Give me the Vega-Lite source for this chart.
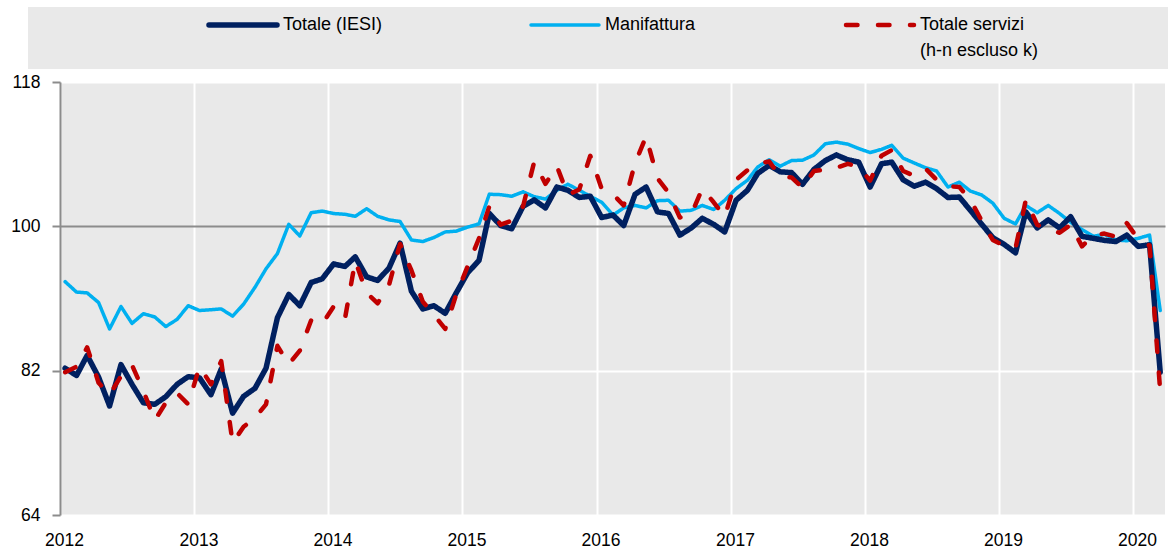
{
  "$schema": "https://vega.github.io/schema/vega-lite/v6.json",
  "autosize": {"type": "none"},
  "padding": {"left": 60, "top": 82, "right": 3, "bottom": 40},
  "width": 1105,
  "height": 433,
  "background": "white",
  "data": {"values": [
{"d":"2012-01-15","s":"Manifattura","v":93.1},{"d":"2012-02-15","s":"Manifattura","v":91.8},{"d":"2012-03-15","s":"Manifattura","v":91.7},{"d":"2012-04-15","s":"Manifattura","v":90.5},{"d":"2012-05-15","s":"Manifattura","v":87.2},{"d":"2012-06-15","s":"Manifattura","v":90.0},{"d":"2012-07-15","s":"Manifattura","v":87.9},{"d":"2012-08-15","s":"Manifattura","v":89.1},{"d":"2012-09-15","s":"Manifattura","v":88.7},{"d":"2012-10-15","s":"Manifattura","v":87.5},{"d":"2012-11-15","s":"Manifattura","v":88.4},{"d":"2012-12-15","s":"Manifattura","v":90.1},
{"d":"2013-01-15","s":"Manifattura","v":89.5},{"d":"2013-02-15","s":"Manifattura","v":89.6},{"d":"2013-03-15","s":"Manifattura","v":89.7},{"d":"2013-04-15","s":"Manifattura","v":88.8},{"d":"2013-05-15","s":"Manifattura","v":90.3},{"d":"2013-06-15","s":"Manifattura","v":92.4},{"d":"2013-07-15","s":"Manifattura","v":94.7},{"d":"2013-08-15","s":"Manifattura","v":96.6},{"d":"2013-09-15","s":"Manifattura","v":100.25},{"d":"2013-10-15","s":"Manifattura","v":98.8},{"d":"2013-11-15","s":"Manifattura","v":101.7},{"d":"2013-12-15","s":"Manifattura","v":101.9},
{"d":"2014-01-15","s":"Manifattura","v":101.6},{"d":"2014-02-15","s":"Manifattura","v":101.5},{"d":"2014-03-15","s":"Manifattura","v":101.25},{"d":"2014-04-15","s":"Manifattura","v":102.2},{"d":"2014-05-15","s":"Manifattura","v":101.25},{"d":"2014-06-15","s":"Manifattura","v":100.8},{"d":"2014-07-15","s":"Manifattura","v":100.6},{"d":"2014-08-15","s":"Manifattura","v":98.3},{"d":"2014-09-15","s":"Manifattura","v":98.1},{"d":"2014-10-15","s":"Manifattura","v":98.6},{"d":"2014-11-15","s":"Manifattura","v":99.3},{"d":"2014-12-15","s":"Manifattura","v":99.4},
{"d":"2015-01-15","s":"Manifattura","v":99.9},{"d":"2015-02-15","s":"Manifattura","v":100.3},{"d":"2015-03-15","s":"Manifattura","v":104.0},{"d":"2015-04-15","s":"Manifattura","v":103.95},{"d":"2015-05-15","s":"Manifattura","v":103.75},{"d":"2015-06-15","s":"Manifattura","v":104.3},{"d":"2015-07-15","s":"Manifattura","v":103.7},{"d":"2015-08-15","s":"Manifattura","v":103.4},{"d":"2015-09-15","s":"Manifattura","v":104.5},{"d":"2015-10-15","s":"Manifattura","v":105.25},{"d":"2015-11-15","s":"Manifattura","v":104.5},{"d":"2015-12-15","s":"Manifattura","v":103.75},
{"d":"2016-01-15","s":"Manifattura","v":103.0},{"d":"2016-02-15","s":"Manifattura","v":101.4},{"d":"2016-03-15","s":"Manifattura","v":102.3},{"d":"2016-04-15","s":"Manifattura","v":102.6},{"d":"2016-05-15","s":"Manifattura","v":102.3},{"d":"2016-06-15","s":"Manifattura","v":103.2},{"d":"2016-07-15","s":"Manifattura","v":103.25},{"d":"2016-08-15","s":"Manifattura","v":101.9},{"d":"2016-09-15","s":"Manifattura","v":102.0},{"d":"2016-10-15","s":"Manifattura","v":102.6},{"d":"2016-11-15","s":"Manifattura","v":102.1},{"d":"2016-12-15","s":"Manifattura","v":103.25},
{"d":"2017-01-15","s":"Manifattura","v":104.7},{"d":"2017-02-15","s":"Manifattura","v":105.75},{"d":"2017-03-15","s":"Manifattura","v":107.4},{"d":"2017-04-15","s":"Manifattura","v":108.3},{"d":"2017-05-15","s":"Manifattura","v":107.5},{"d":"2017-06-15","s":"Manifattura","v":108.2},{"d":"2017-07-15","s":"Manifattura","v":108.25},{"d":"2017-08-15","s":"Manifattura","v":108.9},{"d":"2017-09-15","s":"Manifattura","v":110.3},{"d":"2017-10-15","s":"Manifattura","v":110.5},{"d":"2017-11-15","s":"Manifattura","v":110.25},{"d":"2017-12-15","s":"Manifattura","v":109.7},
{"d":"2018-01-15","s":"Manifattura","v":109.2},{"d":"2018-02-15","s":"Manifattura","v":109.6},{"d":"2018-03-15","s":"Manifattura","v":110.1},{"d":"2018-04-15","s":"Manifattura","v":108.5},{"d":"2018-05-15","s":"Manifattura","v":107.9},{"d":"2018-06-15","s":"Manifattura","v":107.3},{"d":"2018-07-15","s":"Manifattura","v":106.9},{"d":"2018-08-15","s":"Manifattura","v":104.9},{"d":"2018-09-15","s":"Manifattura","v":105.5},{"d":"2018-10-15","s":"Manifattura","v":104.4},{"d":"2018-11-15","s":"Manifattura","v":103.9},{"d":"2018-12-15","s":"Manifattura","v":102.9},
{"d":"2019-01-15","s":"Manifattura","v":101.0},{"d":"2019-02-15","s":"Manifattura","v":100.3},{"d":"2019-03-15","s":"Manifattura","v":102.6},{"d":"2019-04-15","s":"Manifattura","v":101.7},{"d":"2019-05-15","s":"Manifattura","v":102.6},{"d":"2019-06-15","s":"Manifattura","v":101.6},{"d":"2019-07-15","s":"Manifattura","v":100.5},{"d":"2019-08-15","s":"Manifattura","v":99.6},{"d":"2019-09-15","s":"Manifattura","v":98.75},{"d":"2019-10-15","s":"Manifattura","v":99.0},{"d":"2019-11-15","s":"Manifattura","v":98.3},{"d":"2019-12-15","s":"Manifattura","v":98.2},
{"d":"2020-01-15","s":"Manifattura","v":98.5},{"d":"2020-02-15","s":"Manifattura","v":98.9},{"d":"2020-03-15","s":"Manifattura","v":89.5},
{"d":"2012-01-15","s":"Totale (IESI)","v":82.3},{"d":"2012-02-15","s":"Totale (IESI)","v":81.4},{"d":"2012-03-15","s":"Totale (IESI)","v":83.9},{"d":"2012-04-15","s":"Totale (IESI)","v":81.2},{"d":"2012-05-15","s":"Totale (IESI)","v":77.6},{"d":"2012-06-15","s":"Totale (IESI)","v":82.75},{"d":"2012-07-15","s":"Totale (IESI)","v":80.3},{"d":"2012-08-15","s":"Totale (IESI)","v":78.0},{"d":"2012-09-15","s":"Totale (IESI)","v":77.8},{"d":"2012-10-15","s":"Totale (IESI)","v":78.75},{"d":"2012-11-15","s":"Totale (IESI)","v":80.3},{"d":"2012-12-15","s":"Totale (IESI)","v":81.25},
{"d":"2013-01-15","s":"Totale (IESI)","v":81.1},{"d":"2013-02-15","s":"Totale (IESI)","v":79.0},{"d":"2013-03-15","s":"Totale (IESI)","v":82.2},{"d":"2013-04-15","s":"Totale (IESI)","v":76.7},{"d":"2013-05-15","s":"Totale (IESI)","v":78.8},{"d":"2013-06-15","s":"Totale (IESI)","v":79.8},{"d":"2013-07-15","s":"Totale (IESI)","v":82.3},{"d":"2013-08-15","s":"Totale (IESI)","v":88.6},{"d":"2013-09-15","s":"Totale (IESI)","v":91.5},{"d":"2013-10-15","s":"Totale (IESI)","v":90.1},{"d":"2013-11-15","s":"Totale (IESI)","v":93.0},{"d":"2013-12-15","s":"Totale (IESI)","v":93.45},
{"d":"2014-01-15","s":"Totale (IESI)","v":95.3},{"d":"2014-02-15","s":"Totale (IESI)","v":95.0},{"d":"2014-03-15","s":"Totale (IESI)","v":96.2},{"d":"2014-04-15","s":"Totale (IESI)","v":93.7},{"d":"2014-05-15","s":"Totale (IESI)","v":93.25},{"d":"2014-06-15","s":"Totale (IESI)","v":94.8},{"d":"2014-07-15","s":"Totale (IESI)","v":97.9},{"d":"2014-08-15","s":"Totale (IESI)","v":91.9},{"d":"2014-09-15","s":"Totale (IESI)","v":89.7},{"d":"2014-10-15","s":"Totale (IESI)","v":90.1},{"d":"2014-11-15","s":"Totale (IESI)","v":89.15},{"d":"2014-12-15","s":"Totale (IESI)","v":91.7},
{"d":"2015-01-15","s":"Totale (IESI)","v":94.2},{"d":"2015-02-15","s":"Totale (IESI)","v":95.75},{"d":"2015-03-15","s":"Totale (IESI)","v":101.6},{"d":"2015-04-15","s":"Totale (IESI)","v":100.1},{"d":"2015-05-15","s":"Totale (IESI)","v":99.7},{"d":"2015-06-15","s":"Totale (IESI)","v":102.5},{"d":"2015-07-15","s":"Totale (IESI)","v":103.3},{"d":"2015-08-15","s":"Totale (IESI)","v":102.3},{"d":"2015-09-15","s":"Totale (IESI)","v":104.9},{"d":"2015-10-15","s":"Totale (IESI)","v":104.5},{"d":"2015-11-15","s":"Totale (IESI)","v":103.6},{"d":"2015-12-15","s":"Totale (IESI)","v":103.75},
{"d":"2016-01-15","s":"Totale (IESI)","v":101.1},{"d":"2016-02-15","s":"Totale (IESI)","v":101.4},{"d":"2016-03-15","s":"Totale (IESI)","v":100.1},{"d":"2016-04-15","s":"Totale (IESI)","v":104.0},{"d":"2016-05-15","s":"Totale (IESI)","v":104.9},{"d":"2016-06-15","s":"Totale (IESI)","v":101.8},{"d":"2016-07-15","s":"Totale (IESI)","v":101.6},{"d":"2016-08-15","s":"Totale (IESI)","v":98.9},{"d":"2016-09-15","s":"Totale (IESI)","v":99.8},{"d":"2016-10-15","s":"Totale (IESI)","v":101.0},{"d":"2016-11-15","s":"Totale (IESI)","v":100.25},{"d":"2016-12-15","s":"Totale (IESI)","v":99.3},
{"d":"2017-01-15","s":"Totale (IESI)","v":103.25},{"d":"2017-02-15","s":"Totale (IESI)","v":104.5},{"d":"2017-03-15","s":"Totale (IESI)","v":106.6},{"d":"2017-04-15","s":"Totale (IESI)","v":107.6},{"d":"2017-05-15","s":"Totale (IESI)","v":106.8},{"d":"2017-06-15","s":"Totale (IESI)","v":106.7},{"d":"2017-07-15","s":"Totale (IESI)","v":105.25},{"d":"2017-08-15","s":"Totale (IESI)","v":107.1},{"d":"2017-09-15","s":"Totale (IESI)","v":108.2},{"d":"2017-10-15","s":"Totale (IESI)","v":108.9},{"d":"2017-11-15","s":"Totale (IESI)","v":108.3},{"d":"2017-12-15","s":"Totale (IESI)","v":108.0},
{"d":"2018-01-15","s":"Totale (IESI)","v":104.9},{"d":"2018-02-15","s":"Totale (IESI)","v":107.8},{"d":"2018-03-15","s":"Totale (IESI)","v":108.0},{"d":"2018-04-15","s":"Totale (IESI)","v":105.8},{"d":"2018-05-15","s":"Totale (IESI)","v":105.0},{"d":"2018-06-15","s":"Totale (IESI)","v":105.5},{"d":"2018-07-15","s":"Totale (IESI)","v":104.7},{"d":"2018-08-15","s":"Totale (IESI)","v":103.6},{"d":"2018-09-15","s":"Totale (IESI)","v":103.65},{"d":"2018-10-15","s":"Totale (IESI)","v":102.0},{"d":"2018-11-15","s":"Totale (IESI)","v":100.25},{"d":"2018-12-15","s":"Totale (IESI)","v":98.6},
{"d":"2019-01-15","s":"Totale (IESI)","v":97.75},{"d":"2019-02-15","s":"Totale (IESI)","v":96.7},{"d":"2019-03-15","s":"Totale (IESI)","v":101.8},{"d":"2019-04-15","s":"Totale (IESI)","v":99.8},{"d":"2019-05-15","s":"Totale (IESI)","v":100.8},{"d":"2019-06-15","s":"Totale (IESI)","v":99.8},{"d":"2019-07-15","s":"Totale (IESI)","v":101.2},{"d":"2019-08-15","s":"Totale (IESI)","v":98.75},{"d":"2019-09-15","s":"Totale (IESI)","v":98.5},{"d":"2019-10-15","s":"Totale (IESI)","v":98.25},{"d":"2019-11-15","s":"Totale (IESI)","v":98.1},{"d":"2019-12-15","s":"Totale (IESI)","v":98.9},
{"d":"2020-01-15","s":"Totale (IESI)","v":97.5},{"d":"2020-02-15","s":"Totale (IESI)","v":97.7},{"d":"2020-03-15","s":"Totale (IESI)","v":81.8},
{"d":"2012-01-15","s":"Totale servizi","v":81.8},{"d":"2012-02-15","s":"Totale servizi","v":82.5},{"d":"2012-03-15","s":"Totale servizi","v":84.9},{"d":"2012-04-15","s":"Totale servizi","v":80.5},{"d":"2012-05-15","s":"Totale servizi","v":79.0},{"d":"2012-06-15","s":"Totale servizi","v":81.3},{"d":"2012-07-15","s":"Totale servizi","v":82.7},{"d":"2012-08-15","s":"Totale servizi","v":79.5},{"d":"2012-09-15","s":"Totale servizi","v":75.8},{"d":"2012-10-15","s":"Totale servizi","v":78.0},{"d":"2012-11-15","s":"Totale servizi","v":79.2},{"d":"2012-12-15","s":"Totale servizi","v":77.8},
{"d":"2013-01-15","s":"Totale servizi","v":82.5},{"d":"2013-02-15","s":"Totale servizi","v":80.3},{"d":"2013-03-15","s":"Totale servizi","v":83.2},{"d":"2013-04-15","s":"Totale servizi","v":73.0},{"d":"2013-05-15","s":"Totale servizi","v":75.0},{"d":"2013-06-15","s":"Totale servizi","v":76.1},{"d":"2013-07-15","s":"Totale servizi","v":77.8},{"d":"2013-08-15","s":"Totale servizi","v":85.1},{"d":"2013-09-15","s":"Totale servizi","v":82.8},{"d":"2013-10-15","s":"Totale servizi","v":84.5},{"d":"2013-11-15","s":"Totale servizi","v":88.3},{"d":"2013-12-15","s":"Totale servizi","v":87.8},
{"d":"2014-01-15","s":"Totale servizi","v":90.0},{"d":"2014-02-15","s":"Totale servizi","v":88.5},{"d":"2014-03-15","s":"Totale servizi","v":95.7},{"d":"2014-04-15","s":"Totale servizi","v":91.7},{"d":"2014-05-15","s":"Totale servizi","v":90.4},{"d":"2014-06-15","s":"Totale servizi","v":92.7},{"d":"2014-07-15","s":"Totale servizi","v":97.8},{"d":"2014-08-15","s":"Totale servizi","v":94.5},{"d":"2014-09-15","s":"Totale servizi","v":90.6},{"d":"2014-10-15","s":"Totale servizi","v":89.0},{"d":"2014-11-15","s":"Totale servizi","v":87.2},{"d":"2014-12-15","s":"Totale servizi","v":91.5},
{"d":"2015-01-15","s":"Totale servizi","v":95.0},{"d":"2015-02-15","s":"Totale servizi","v":98.5},{"d":"2015-03-15","s":"Totale servizi","v":102.5},{"d":"2015-04-15","s":"Totale servizi","v":100.2},{"d":"2015-05-15","s":"Totale servizi","v":100.7},{"d":"2015-06-15","s":"Totale servizi","v":102.5},{"d":"2015-07-15","s":"Totale servizi","v":108.0},{"d":"2015-08-15","s":"Totale servizi","v":105.3},{"d":"2015-09-15","s":"Totale servizi","v":107.5},{"d":"2015-10-15","s":"Totale servizi","v":103.9},{"d":"2015-11-15","s":"Totale servizi","v":104.6},{"d":"2015-12-15","s":"Totale servizi","v":108.8},
{"d":"2016-01-15","s":"Totale servizi","v":104.7},{"d":"2016-02-15","s":"Totale servizi","v":104.0},{"d":"2016-03-15","s":"Totale servizi","v":102.6},{"d":"2016-04-15","s":"Totale servizi","v":107.9},{"d":"2016-05-15","s":"Totale servizi","v":111.2},{"d":"2016-06-15","s":"Totale servizi","v":106.0},{"d":"2016-07-15","s":"Totale servizi","v":104.2},{"d":"2016-08-15","s":"Totale servizi","v":101.1},{"d":"2016-09-15","s":"Totale servizi","v":101.5},{"d":"2016-10-15","s":"Totale servizi","v":104.7},{"d":"2016-11-15","s":"Totale servizi","v":103.0},{"d":"2016-12-15","s":"Totale servizi","v":101.2},
{"d":"2017-01-15","s":"Totale servizi","v":105.8},{"d":"2017-02-15","s":"Totale servizi","v":107.0},{"d":"2017-03-15","s":"Totale servizi","v":107.8},{"d":"2017-04-15","s":"Totale servizi","v":108.1},{"d":"2017-05-15","s":"Totale servizi","v":106.2},{"d":"2017-06-15","s":"Totale servizi","v":106.1},{"d":"2017-07-15","s":"Totale servizi","v":104.8},{"d":"2017-08-15","s":"Totale servizi","v":106.9},{"d":"2017-09-15","s":"Totale servizi","v":107.1},{"d":"2017-10-15","s":"Totale servizi","v":107.3},{"d":"2017-11-15","s":"Totale servizi","v":107.8},{"d":"2017-12-15","s":"Totale servizi","v":107.4},
{"d":"2018-01-15","s":"Totale servizi","v":105.7},{"d":"2018-02-15","s":"Totale servizi","v":108.8},{"d":"2018-03-15","s":"Totale servizi","v":109.5},{"d":"2018-04-15","s":"Totale servizi","v":106.9},{"d":"2018-05-15","s":"Totale servizi","v":106.3},{"d":"2018-06-15","s":"Totale servizi","v":107.2},{"d":"2018-07-15","s":"Totale servizi","v":105.8},{"d":"2018-08-15","s":"Totale servizi","v":105.0},{"d":"2018-09-15","s":"Totale servizi","v":104.9},{"d":"2018-10-15","s":"Totale servizi","v":103.3},{"d":"2018-11-15","s":"Totale servizi","v":100.7},{"d":"2018-12-15","s":"Totale servizi","v":98.3},
{"d":"2019-01-15","s":"Totale servizi","v":97.6},{"d":"2019-02-15","s":"Totale servizi","v":97.3},{"d":"2019-03-15","s":"Totale servizi","v":103.3},{"d":"2019-04-15","s":"Totale servizi","v":100.2},{"d":"2019-05-15","s":"Totale servizi","v":99.6},{"d":"2019-06-15","s":"Totale servizi","v":99.2},{"d":"2019-07-15","s":"Totale servizi","v":100.2},{"d":"2019-08-15","s":"Totale servizi","v":97.5},{"d":"2019-09-15","s":"Totale servizi","v":98.9},{"d":"2019-10-15","s":"Totale servizi","v":99.1},{"d":"2019-11-15","s":"Totale servizi","v":98.7},{"d":"2019-12-15","s":"Totale servizi","v":100.4},
{"d":"2020-01-15","s":"Totale servizi","v":98.4},{"d":"2020-02-15","s":"Totale servizi","v":97.6},{"d":"2020-03-15","s":"Totale servizi","v":79.4}
  ]},
  "encoding": {
    "x": {"field": "d", "type": "temporal",
      "scale": {"type": "utc", "domain": ["2012-01-01", "2020-03-28"]},
      "axis": {"title": null, "format": "%Y", "tickCount": "year", "domain": false, "ticks": false, "tickSize": 0,
        "labelFlush": false, "labelOffset": 4, "labelPadding": 16, "labelFontSize": 17.5, "labelColor": "#000",
        "gridColor": "white", "gridWidth": 2}},
    "y": {"field": "v", "type": "quantitative",
      "scale": {"domain": [64, 118], "nice": false, "zero": false},
      "axis": {"title": null, "values": [64, 82, 100, 118], "domainColor": "#8c8c8c", "domainWidth": 2,
        "tickColor": "#8c8c8c", "tickWidth": 2, "tickSize": 8, "labelPadding": 12, "labelFontSize": 17.5, "labelColor": "#000",
        "gridColor": {"condition": {"test": "datum.value === 100", "value": "#8c8c8c"}, "value": "white"}, "gridWidth": 2}},
    "color": {"field": "s", "type": "nominal",
      "scale": {"domain": ["Totale (IESI)", "Manifattura", "Totale servizi"], "range": ["#002060", "#00B0F0", "#C00000"]},
      "legend": {"title": " ", "titleOrient": "left", "titlePadding": 172, "titleFontSize": 18, "orient": "none", "legendX": -32, "legendY": -75,
        "direction": "horizontal", "columns": 3, "fillColor": "#E9E9E9", "padding": 9, "symbolType": "M-5.667,0H5.667", "symbolSize": 144,
        "symbolOffset": 25, "labelFontSize": 18, "labelColor": "#000", "labelOffset": 31, "labelLimit": 1000, "columnPadding": 140, "labelBaseline": "middle",
        "labelExpr": "datum.label === 'Totale servizi' ? ['Totale servizi', '(h-n escluso k)\u00a0\u00a0\u00a0\u00a0\u00a0\u00a0\u00a0\u00a0\u00a0\u00a0\u00a0\u00a0\u00a0\u00a0\u00a0\u00a0\u00a0\u00a0\u00a0\u00a0\u00a0\u00a0\u00a0\u00a0\u00a0\u200b'] : [datum.label, '\u2800']",
        "encode": {"labels": {"update": {"lineHeight": {"value": 26}}}, "symbols": {"update": {"strokeCap": {"value": "round"}}}}}},
    "strokeDash": {"field": "s", "type": "nominal",
      "scale": {"domain": ["Totale (IESI)", "Manifattura", "Totale servizi"], "range": [[1, 0], [1, 0], [11.5, 20.5]]},
      "legend": {"title": " ", "titleOrient": "left", "titlePadding": 172, "titleFontSize": 18, "orient": "none", "legendX": -32, "legendY": -75,
        "direction": "horizontal", "columns": 3, "fillColor": "#E9E9E9", "padding": 9, "symbolType": "M-5.667,0H5.667", "symbolSize": 144,
        "symbolOffset": 25, "labelFontSize": 18, "labelColor": "#000", "labelOffset": 31, "labelLimit": 1000, "columnPadding": 140, "labelBaseline": "middle",
        "labelExpr": "datum.label === 'Totale servizi' ? ['Totale servizi', '(h-n escluso k)\u00a0\u00a0\u00a0\u00a0\u00a0\u00a0\u00a0\u00a0\u00a0\u00a0\u00a0\u00a0\u00a0\u00a0\u00a0\u00a0\u00a0\u00a0\u00a0\u00a0\u00a0\u00a0\u00a0\u00a0\u00a0\u200b'] : [datum.label, '\u2800']",
        "encode": {"labels": {"update": {"lineHeight": {"value": 26}}}, "symbols": {"update": {"strokeCap": {"value": "round"}}}}}},
    "strokeWidth": {"field": "s", "type": "nominal",
      "scale": {"type": "ordinal", "domain": ["Totale (IESI)", "Manifattura", "Totale servizi"], "range": [5.5, 3.5, 4.5]},
      "legend": {"title": " ", "titleOrient": "left", "titlePadding": 172, "titleFontSize": 18, "orient": "none", "legendX": -32, "legendY": -75,
        "direction": "horizontal", "columns": 3, "fillColor": "#E9E9E9", "padding": 9, "symbolType": "M-5.667,0H5.667", "symbolSize": 144,
        "symbolOffset": 25, "labelFontSize": 18, "labelColor": "#000", "labelOffset": 31, "labelLimit": 1000, "columnPadding": 140, "labelBaseline": "middle",
        "labelExpr": "datum.label === 'Totale servizi' ? ['Totale servizi', '(h-n escluso k)\u00a0\u00a0\u00a0\u00a0\u00a0\u00a0\u00a0\u00a0\u00a0\u00a0\u00a0\u00a0\u00a0\u00a0\u00a0\u00a0\u00a0\u00a0\u00a0\u00a0\u00a0\u00a0\u00a0\u00a0\u00a0\u200b'] : [datum.label, '\u2800']",
        "encode": {"labels": {"update": {"lineHeight": {"value": 26}}}, "symbols": {"update": {"strokeCap": {"value": "round"}}}}}}
  },
  "layer": [
    {"transform": [{"filter": {"field": "s", "equal": "Manifattura"}}], "mark": {"type": "line", "strokeJoin": "round", "strokeCap": "round"}},
    {"transform": [{"filter": {"field": "s", "equal": "Totale (IESI)"}}], "mark": {"type": "line", "strokeJoin": "round", "strokeCap": "round"}},
    {"transform": [{"filter": {"field": "s", "equal": "Totale servizi"}}], "mark": {"type": "line", "strokeJoin": "round", "strokeCap": "round"}}
  ],
  "config": {
    "font": "Liberation Sans, Arial, sans-serif",
    "axis": {"labelFont": "Liberation Sans, Arial, sans-serif"},
    "legend": {"labelFont": "Liberation Sans, Arial, sans-serif", "titleFont": "Liberation Sans, Arial, sans-serif"},
    "view": {"fill": "#E9E9E9", "stroke": null}
  }
}
